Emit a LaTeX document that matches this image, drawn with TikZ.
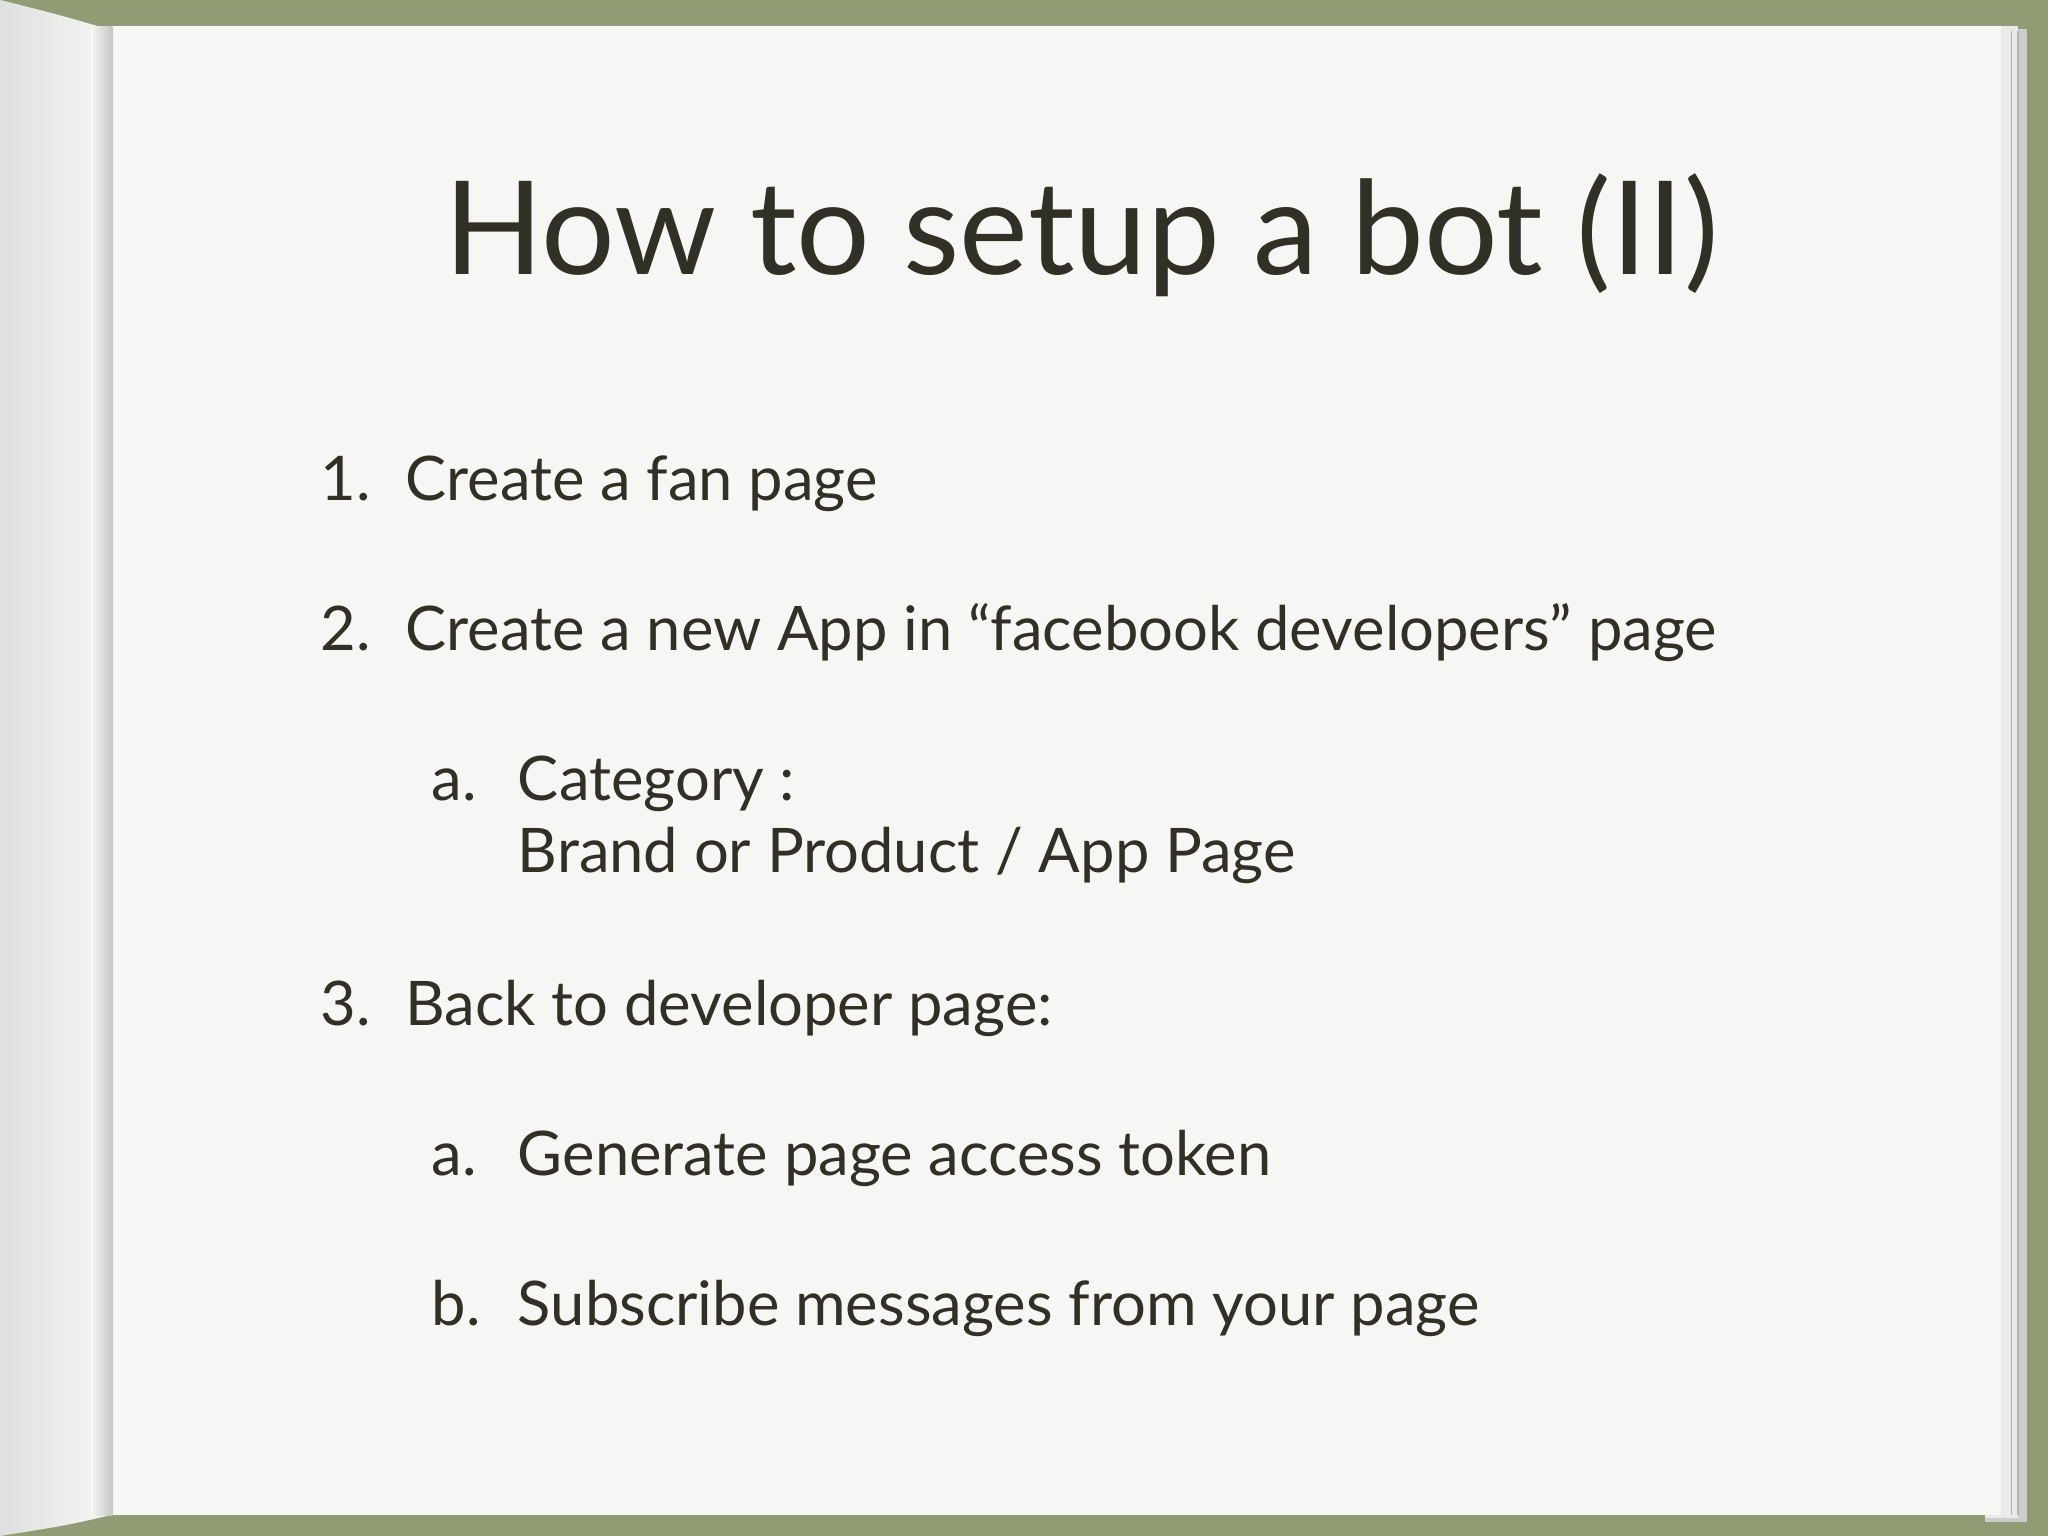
\documentclass[tikz,border=0pt]{standalone}
\usepackage{fontspec}
\setmainfont{Lato}
\definecolor{frame}{RGB}{146,156,116}
\definecolor{paper}{RGB}{246,246,244}
\definecolor{ink}{RGB}{48,48,38}
\begin{document}
\begin{tikzpicture}[x=0.013061cm,y=-0.013061cm,
  txt/.style={anchor=base west,inner sep=0,text=ink,font=\fontsize{17.5}{22}\selectfont},
  ttl/.style={anchor=base,inner sep=0,text=ink,font=\fontsize{37}{44}\selectfont}]
\useasboundingbox (0,0) rectangle (1568,1176);
\fill[frame] (0,0) rectangle (1568,1176);
% right page edges
\fill[gray!40] (1520,22) rectangle (1552,1165);
\fill[paper!90!gray] (1520,20) rectangle (1545,1162);
\draw[gray!60] (1545,24) -- (1545,1160) (1540,24) -- (1540,1160);
% main page
\fill[paper] (80,20) rectangle (1532,1160);
% left page curl
\shade[left color=gray!25,right color=paper] (0,0) .. controls (40,10) .. (75,20) -- (85,1160) .. controls (50,1168) .. (0,1176) -- cycle;
\shade[left color=paper,right color=gray!45] (70,20) rectangle (86,1160);
\node[ttl] (title) at (828,210) {How to setup a bot (II)};
\node[txt] (n1) at (245,383) {1.};
\node[txt] (t1) at (310,383) {Create a fan page};
\node[txt] (n2) at (245,498) {2.};
\node[txt] (t2) at (310,498) {Create a new App in “facebook developers” page};
\node[txt] (n2a) at (330,613) {a.};
\node[txt] (t2a) at (396,613) {Category :};
\node[txt] (t2b) at (396,668) {Brand or Product / App Page};
\node[txt] (n3) at (245,785) {3.};
\node[txt] (t3) at (310,785) {Back to developer page:};
\node[txt] (n3a) at (330,900) {a.};
\node[txt] (t3a) at (396,900) {Generate page access token};
\node[txt] (n3b) at (330,1015) {b.};
\node[txt] (t3b) at (396,1015) {Subscribe messages from your page};
\end{tikzpicture}
\end{document}
